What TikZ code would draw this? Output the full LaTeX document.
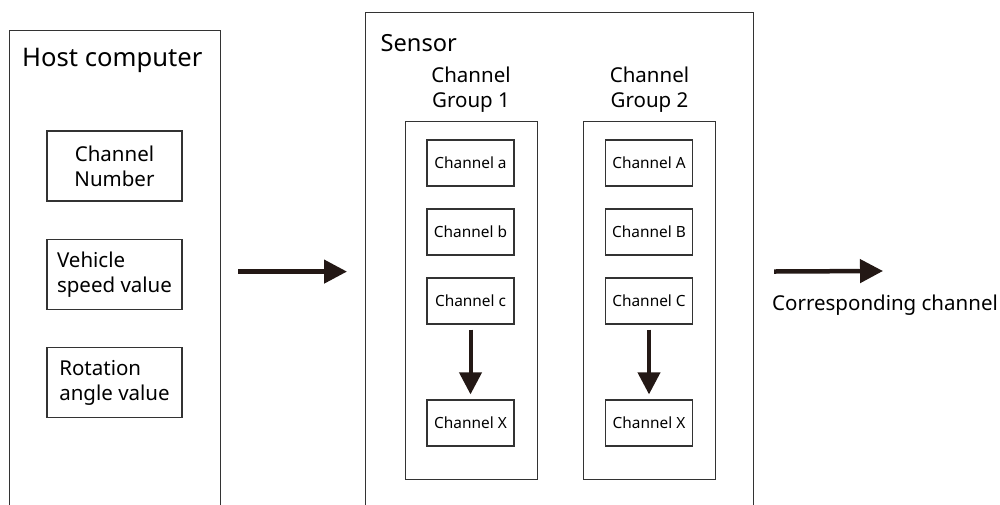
\documentclass[tikz,border=0pt]{standalone}
\usepackage{fontspec}
\setmainfont{Noto Sans}
\usetikzlibrary{arrows.meta}
\definecolor{ink}{HTML}{231815}
\definecolor{edge}{HTML}{333333}
\begin{document}
\begin{tikzpicture}[x=1pt,y=-1pt,
  frame/.style={draw=edge, line width=1.2pt, inner sep=0pt, anchor=north west},
  hbox/.style={draw=edge, line width=1.2pt, inner sep=0pt, minimum width=135pt, minimum height=70pt,
    font=\fontsize{20.5}{25}\selectfont},
  chbox/.style={draw=edge, line width=1.2pt, inner sep=0pt, minimum width=87pt, minimum height=46pt,
    font=\fontsize{15.4}{18}\selectfont},
  title/.style={inner sep=0pt, anchor=base west},
  glabel/.style={inner sep=0pt, align=center, font=\fontsize{20.5}{25}\selectfont},
  bigarrow/.style={draw=ink, line width=4.5pt, -{Triangle[length=23pt,width=23pt]}},
  smallarrow/.style={draw=ink, line width=4pt, -{Triangle[length=22pt,width=22pt]}}
]
\useasboundingbox (0,0) rectangle (1000,505);

% Host computer frame (open at the bottom, cut by the page)
\node[frame, minimum width=211pt, minimum height=482pt] (host) at (9,30) {};
\node[title, font=\fontsize{25.6}{30}\selectfont] (hosttitle) at (22,66.7) {Host computer};
\node[hbox, align=center] (hb1) at (114.5,166) {Channel\\Number};
\node[hbox, align=left] (hb2) at (114.5,274.5) {Vehicle\\speed value};
\node[hbox, align=left] (hb3) at (114.5,382.5) {Rotation\\angle value};

% Sensor frame
\node[frame, minimum width=388pt, minimum height=518pt] (sensor) at (365,12) {};
\node[title, font=\fontsize{23.6}{28}\selectfont] (sensortitle) at (380.5,51.7) {Sensor};

% Groups
\node[frame, minimum width=132pt, minimum height=358pt] (g1) at (405,121) {};
\node[frame, minimum width=132pt, minimum height=358pt] (g2) at (583,121) {};
\node[glabel] (g1l) at (471,89.3) {Channel\\Group 1};
\node[glabel] (g2l) at (649.5,89.3) {Channel\\Group 2};

\node[chbox] (a1) at (470.5,163) {Channel a};
\node[chbox] (b1) at (470.5,232) {Channel b};
\node[chbox] (c1) at (470.5,301) {Channel c};
\node[chbox] (x1) at (470.5,423) {Channel X};

\node[chbox] (a2) at (649,163) {Channel A};
\node[chbox] (b2) at (649,232) {Channel B};
\node[chbox] (c2) at (649,301) {Channel C};
\node[chbox] (x2) at (649,423) {Channel X};

\draw[smallarrow, shorten <=5pt, shorten >=5pt] (c1) -- (x1);
\draw[smallarrow, shorten <=5pt, shorten >=5pt] (c2) -- (x2);

% Main arrows
\draw[bigarrow, shorten <=17pt, shorten >=18pt] (host.east) -- (sensor.west);
\coordinate (outend) at (883,271);
\draw[bigarrow, shorten <=20pt] (sensor.east) -- (outend);
\node[title, font=\fontsize{20.5}{25}\selectfont] (outlabel) at (772,310) {Corresponding channel};
\end{tikzpicture}
\end{document}
